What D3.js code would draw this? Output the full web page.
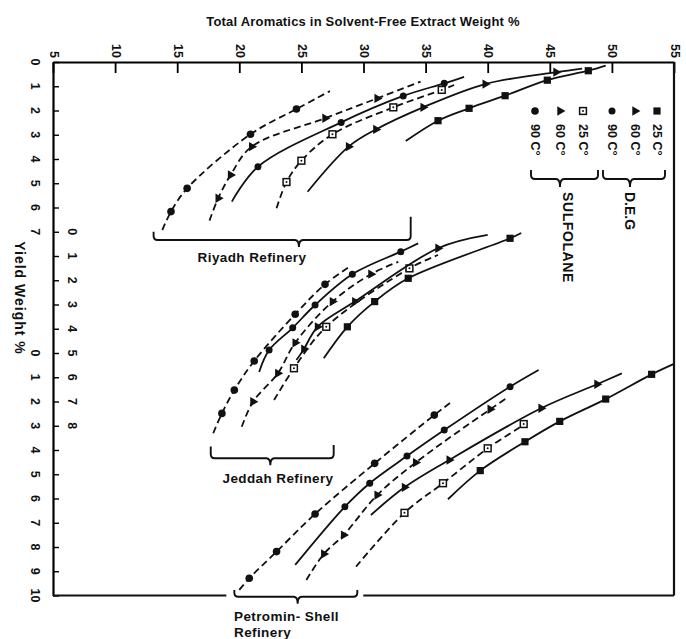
<!DOCTYPE html>
<html>
<head>
<meta charset="utf-8">
<script src="https://cdn.jsdelivr.net/npm/d3@7"></script>
<style>
  body { margin: 0; background: #fff; }
  text { font-family: "Liberation Sans", Arial, sans-serif; font-weight: bold; fill: #111; }
</style>
</head>
<body>
<svg id="chart" width="686" height="639"></svg>
<script>
// ---- data ----------------------------------------------------------------
const aromaticTicks = [5, 10, 15, 20, 25, 30, 35, 40, 45, 50, 55]
const riyadhYieldTicks = [0, 1, 2, 3, 4, 5, 6, 7]
const jeddahYieldTicks = [0, 1, 2, 3, 4, 5, 6, 7, 8]
const petrominYieldTicks = [0, 1, 2, 3, 4, 5, 6, 7, 8, 9, 10]

// the three yield scales are stacked on one axis; each starts this far down it
const yieldOffsets = [0, 7, 12]
const refineryLabels = [['Riyadh Refinery'], ['Jeddah Refinery'], ['Petromin- Shell', 'Refinery']]

// solvent / temperature series, same order in every curve list below
const seriesKeys = ['S90', 'S60', 'S25', 'D90', 'D60', 'D25']
const seriesTemps = ['90', '60', '25', '90', '60', '25']
const solventNames = ['SULFOLANE', 'D.E.G']

// each curve: [aromatics %, yield %]; first and last points are the ends of
// the fitted line, the points between them are the measured values
const riyadhCurves = [
  [[13.8, 6.93], [14.5, 6.17], [15.8, 5.21], [20.9, 2.98], [24.6, 1.94], [27.3, 1.20]],
  [[17.6, 6.54], [18.3, 5.62], [19.3, 4.66], [21.0, 3.49], [26.9, 2.32], [31.1, 1.50], [34.6, 0.81]],
  [[23.0, 6.03], [23.8, 4.95], [25.0, 4.07], [27.5, 2.98], [32.4, 1.87], [36.3, 1.15], [37.3, 0.95]],
  [[19.4, 5.76], [21.5, 4.32], [28.2, 2.49], [33.2, 1.40], [36.5, 0.88], [38.1, 0.61]],
  [[25.5, 5.35], [28.8, 3.49], [31.0, 2.78], [34.8, 1.87], [39.8, 0.91], [45.5, 0.42], [47.6, 0.27]],
  [[33.4, 3.26], [36.0, 2.42], [38.5, 1.91], [41.4, 1.39], [44.8, 0.75], [48.1, 0.36], [49.5, 0.15]]
]
const jeddahCurves = [
  [[17.9, 8.31], [18.6, 7.49], [19.6, 6.53], [21.2, 5.33], [24.5, 3.40], [26.9, 2.17], [29.0, 1.40]],
  [[20.2, 8.04], [21.1, 7.01], [23.1, 5.84], [24.5, 4.58], [27.5, 2.88], [30.6, 1.75], [32.8, 1.24]],
  [[22.8, 6.94], [24.4, 5.63], [27.0, 3.92], [33.7, 1.51], [36.0, 0.96]],
  [[21.6, 5.78], [22.4, 4.88], [24.3, 3.96], [26.1, 3.02], [29.1, 1.75], [33.0, 0.82], [34.4, 0.48]],
  [[24.6, 5.29], [25.2, 4.84], [26.3, 3.92], [29.3, 2.88], [36.0, 0.68], [40.0, 0.13]],
  [[26.8, 5.22], [28.7, 3.92], [30.9, 2.88], [33.6, 1.92], [41.8, 0.27], [42.7, 0.05]]
]
const petrominCurves = [
  [[20.0, 9.77], [20.8, 9.29], [23.0, 8.19], [26.1, 6.64], [30.9, 4.55], [35.7, 2.56], [37.1, 2.01]],
  [[25.4, 9.36], [26.8, 8.29], [28.4, 7.51], [31.1, 5.86], [34.2, 4.52], [40.2, 2.32], [41.5, 1.87]],
  [[29.4, 8.81], [33.3, 6.59], [36.4, 5.37], [40.0, 3.93], [42.9, 2.93], [43.1, 2.80]],
  [[24.5, 8.74], [28.5, 6.34], [30.5, 5.37], [33.5, 4.25], [36.5, 3.18], [41.8, 1.39], [44.1, 0.70]],
  [[30.6, 6.68], [33.3, 5.54], [36.9, 4.41], [44.3, 2.28], [48.8, 1.29], [50.8, 0.84]],
  [[36.8, 6.03], [39.4, 4.85], [43.0, 3.66], [45.8, 2.82], [49.5, 1.90], [53.2, 0.88], [55.0, 0.45]]
]

// brace under each refinery group: aromatics span, notch, and yield-axis levels
const braces = [
  { a0: 13.1, a1: 33.8, notch: 24.8, tipL: 7.0, tipR: 6.38, level: 7.34 },
  { a0: 17.7, a1: 27.6, notch: 22.5, tipL: 15.86, tipR: 15.79, level: 16.34 },
  { a0: 19.6, a1: 29.5, notch: 24.7, tipL: 21.77, tipR: 21.77, level: 22.05 }
]

// ---- layout ----------------------------------------------------------------
const svg = d3.select('#chart')
const x = d3.scaleLinear().domain([5, 55]).range([53, 674])
const y = d3.scaleLinear().domain([0, 22]).range([62, 595.5])
const labelCols = [35, 72, 35]
const refineryLabelPos = [
  { x: 252, y: 262, anchor: 'middle' },
  { x: 278, y: 483, anchor: 'middle' },
  { x: 234, y: 621, anchor: 'start' }
]

// title
svg.append('text')
  .attr('x', 363).attr('y', 26)
  .attr('text-anchor', 'middle')
  .style('font-size', '13px')
  .style('letter-spacing', '0.2px')
  .text('Total Aromatics in Solvent-Free Extract Weight %')

// yield axis title, turned like the rest of the figure
svg.append('text')
  .attr('transform', 'translate(20,298) rotate(90)')
  .attr('text-anchor', 'middle')
  .attr('dominant-baseline', 'central')
  .style('font-size', '14px')
  .style('letter-spacing', '1px')
  .text('Yield Weight %')

// top axis
const topAxis = svg.append('g')
  .attr('transform', `translate(0,${y(0)})`)
  .call(d3.axisTop(x).tickValues(aromaticTicks).tickSizeInner(-11).tickSizeOuter(0))
topAxis.select('.domain').attr('stroke-width', 2.2)
topAxis.selectAll('.tick line').attr('stroke-width', 1.8)
topAxis.selectAll('.tick text')
  .attr('y', null).attr('dy', null)
  .attr('transform', 'translate(0,-4) rotate(90)')
  .attr('text-anchor', 'end')
  .attr('dominant-baseline', 'central')
  .style('font-size', '12.5px')
  .style('font-family', '"Liberation Sans", Arial, sans-serif')
  .style('font-weight', 'bold')

// left axis: one tick per yield unit along the whole stacked axis
const leftAxis = svg.append('g')
  .attr('transform', `translate(${x(5)},0)`)
  .call(d3.axisLeft(y).tickValues(d3.range(0, 23)).tickSizeInner(-6).tickSizeOuter(0).tickFormat(''))
leftAxis.select('.domain').attr('stroke-width', 2.2)
leftAxis.selectAll('.tick line').attr('stroke-width', 1.4)

// yield labels per refinery
const tickSets = [riyadhYieldTicks, jeddahYieldTicks, petrominYieldTicks]
tickSets.forEach((ticks, i) => {
  svg.append('g').selectAll('text')
    .data(ticks)
    .join('text')
    .attr('transform', d => `translate(${labelCols[i]},${y(d + yieldOffsets[i])}) rotate(90)`)
    .attr('text-anchor', 'middle')
    .attr('dominant-baseline', 'central')
    .style('font-size', '12.5px')
    .text(d => d)
})

// right and bottom frame; the bottom edge is broken where the last brace sits
const frame = svg.append('g').attr('stroke', '#111').attr('stroke-width', 2.2)
frame.append('line')
  .attr('x1', x(55)).attr('x2', x(55)).attr('y1', y(0)).attr('y2', y(22))
const gap = [x(braces[2].a0) - 8, x(braces[2].a1) + 6]
frame.append('line')
  .attr('x1', x(5)).attr('x2', gap[0]).attr('y1', y(22)).attr('y2', y(22))
frame.append('line')
  .attr('x1', gap[1]).attr('x2', x(55)).attr('y1', y(22)).attr('y2', y(22))

// ---- markers ----------------------------------------------------------------
const tri = d3.symbol(d3.symbolTriangle, 38)()
function drawMarker(sel, key) {
  if (key === 'S90' || key === 'D90') {
    sel.append('circle').attr('r', key === 'S90' ? 3.8 : 3.5).attr('fill', '#111')
  } else if (key === 'S60' || key === 'D60') {
    sel.append('path').attr('d', tri).attr('transform', 'rotate(90)').attr('fill', '#111')
  } else if (key === 'S25') {
    sel.append('rect').attr('x', -3.4).attr('y', -3.4).attr('width', 6.8).attr('height', 6.8)
      .attr('fill', '#fff').attr('stroke', '#111').attr('stroke-width', 1.5)
    sel.append('circle').attr('r', 1).attr('fill', '#111')
  } else {
    sel.append('rect').attr('x', -3.6).attr('y', -3.6).attr('width', 7.2).attr('height', 7.2)
      .attr('fill', '#111')
  }
}

// ---- curves -----------------------------------------------------------------
const curveSets = [riyadhCurves, jeddahCurves, petrominCurves]
curveSets.forEach((curves, i) => {
  const off = yieldOffsets[i]
  const line = d3.line()
    .x(d => x(d[0]))
    .y(d => y(d[1] + off))
    .curve(d3.curveCatmullRom.alpha(0.5))
  const g = svg.append('g').attr('class', 'refinery')
  curves.forEach((pts, j) => {
    const key = seriesKeys[j]
    g.append('path')
      .attr('d', line(pts))
      .attr('fill', 'none')
      .attr('stroke', '#111')
      .attr('stroke-width', 1.8)
      .attr('stroke-dasharray', key[0] === 'S' ? '7,4' : null)
    g.selectAll(null)
      .data(pts.slice(1, -1))
      .join('g')
      .attr('transform', d => `translate(${x(d[0])},${y(d[1] + off)})`)
      .each(function () { drawMarker(d3.select(this), key) })
  })
})

// ---- braces -----------------------------------------------------------------
function bracePath(x0, x1, xm, yTopL, yTopR, yLine, yNotch) {
  const r = 4
  return `M${x0},${yTopL}L${x0},${yLine - r}Q${x0},${yLine} ${x0 + r},${yLine}` +
    `L${xm - r},${yLine}Q${xm},${yLine} ${xm},${yNotch}Q${xm},${yLine} ${xm + r},${yLine}` +
    `L${x1 - r},${yLine}Q${x1},${yLine} ${x1},${yLine - r}L${x1},${yTopR}`
}
const braceG = svg.append('g').attr('fill', 'none').attr('stroke', '#111').attr('stroke-width', 1.9)
braces.forEach(b => {
  braceG.append('path')
    .attr('d', bracePath(x(b.a0), x(b.a1), x(b.notch), y(b.tipL), y(b.tipR), y(b.level), y(b.level) + 7))
})
refineryLabels.forEach((lines, i) => {
  const p = refineryLabelPos[i]
  svg.append('text')
    .attr('x', p.x).attr('y', p.y)
    .attr('text-anchor', p.anchor)
    .style('font-size', '13.5px')
    .style('letter-spacing', '0.4px')
    .selectAll('tspan')
    .data(lines)
    .join('tspan')
    .attr('x', p.x)
    .attr('dy', (d, k) => k === 0 ? 0 : 16)
    .text(d => d)
})

// ---- legend -----------------------------------------------------------------
const legendX = [535, 560, 583, 612, 635, 657]
const legend = svg.append('g')
seriesKeys.forEach((key, j) => {
  drawMarker(legend.append('g').attr('transform', `translate(${legendX[j]},111)`), key)
  legend.append('text')
    .attr('transform', `translate(${legendX[j]},124) rotate(90)`)
    .attr('dominant-baseline', 'central')
    .style('font-size', '12.5px')
    .text(seriesTemps[j] + ' C°')
})
const legendBraces = [[531, 598, 560], [603, 665, 630]]
legendBraces.forEach((b, k) => {
  braceG.append('path').attr('d', bracePath(b[0], b[1], b[2], 170, 170, 179, 187))
  legend.append('text')
    .attr('transform', `translate(${k === 0 ? 568 : 630},192) rotate(90)`)
    .attr('dominant-baseline', 'central')
    .style('font-size', '14px')
    .style('letter-spacing', k === 0 ? '0.6px' : '0px')
    .text(solventNames[k])
})
</script>
</body>
</html>
